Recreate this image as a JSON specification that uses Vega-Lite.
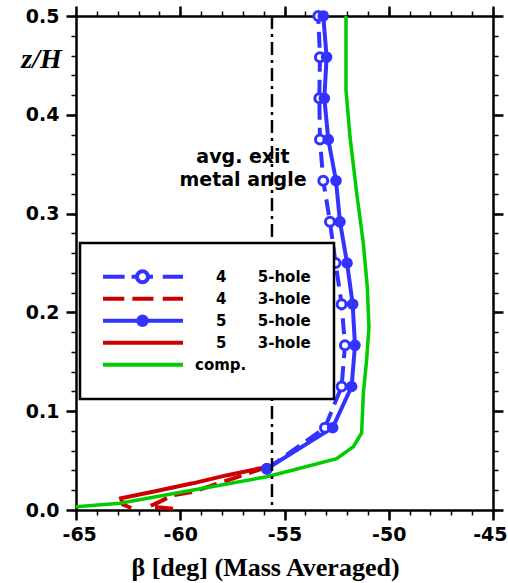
{
  "$schema": "https://vega.github.io/schema/vega-lite/v6.json",
  "width": 417,
  "height": 494,
  "autosize": "none",
  "padding": {"left": 76, "top": 16, "right": 15, "bottom": 73},
  "background": "white",
  "config": {
    "view": {"stroke": null},
    "axis": {
      "grid": false,
      "domainColor": "black",
      "domainWidth": 2.5,
      "tickColor": "black",
      "labelColor": "black",
      "labelFont": "DejaVu Sans",
      "labelFontWeight": "bold",
      "labelFontSize": 19,
      "labelFlush": false,
      "labelOverlap": false,
      "labelBound": false,
      "titleColor": "black"
    }
  },
  "datasets": {
    "curves": [
      {"series": "4 5-hole", "z": 0.5, "beta": -53.38},
      {"series": "4 5-hole", "z": 0.4583, "beta": -53.30},
      {"series": "4 5-hole", "z": 0.4167, "beta": -53.33},
      {"series": "4 5-hole", "z": 0.375, "beta": -53.30},
      {"series": "4 5-hole", "z": 0.3333, "beta": -53.14},
      {"series": "4 5-hole", "z": 0.2917, "beta": -52.82},
      {"series": "4 5-hole", "z": 0.25, "beta": -52.55},
      {"series": "4 5-hole", "z": 0.2083, "beta": -52.26},
      {"series": "4 5-hole", "z": 0.1667, "beta": -52.10},
      {"series": "4 5-hole", "z": 0.125, "beta": -52.26},
      {"series": "4 5-hole", "z": 0.0833, "beta": -53.06},
      {"series": "4 5-hole", "z": 0.0417, "beta": -55.84},
      {"series": "5 5-hole", "z": 0.5, "beta": -53.14},
      {"series": "5 5-hole", "z": 0.4583, "beta": -52.98},
      {"series": "5 5-hole", "z": 0.4167, "beta": -53.09},
      {"series": "5 5-hole", "z": 0.375, "beta": -52.90},
      {"series": "5 5-hole", "z": 0.3333, "beta": -52.53},
      {"series": "5 5-hole", "z": 0.2917, "beta": -52.34},
      {"series": "5 5-hole", "z": 0.25, "beta": -52.00},
      {"series": "5 5-hole", "z": 0.2083, "beta": -51.73},
      {"series": "5 5-hole", "z": 0.1667, "beta": -51.62},
      {"series": "5 5-hole", "z": 0.125, "beta": -51.78},
      {"series": "5 5-hole", "z": 0.0833, "beta": -52.69},
      {"series": "5 5-hole", "z": 0.0417, "beta": -55.85},
      {"series": "4 3-hole", "z": 0.0435, "beta": -55.85},
      {"series": "4 3-hole", "z": 0.033, "beta": -57.3},
      {"series": "4 3-hole", "z": 0.0182, "beta": -59.4},
      {"series": "4 3-hole", "z": 0.015, "beta": -60.35},
      {"series": "4 3-hole", "z": 0.008, "beta": -61.02},
      {"series": "4 3-hole", "z": 0.0035, "beta": -61.5},
      {"series": "4 3-hole", "z": 0.0012, "beta": -60.35},
      {"series": "5 3-hole", "z": 0.0435, "beta": -55.85},
      {"series": "5 3-hole", "z": 0.035, "beta": -57.8},
      {"series": "5 3-hole", "z": 0.027, "beta": -59.4},
      {"series": "5 3-hole", "z": 0.019, "beta": -61.2},
      {"series": "5 3-hole", "z": 0.0118, "beta": -62.84},
      {"series": "5 3-hole", "z": 0.0055, "beta": -62.75},
      {"series": "5 3-hole", "z": 0.002, "beta": -62.35},
      {"series": "comp.", "z": 0.5, "beta": -52.05},
      {"series": "comp.", "z": 0.425, "beta": -52.05},
      {"series": "comp.", "z": 0.378, "beta": -51.86},
      {"series": "comp.", "z": 0.321, "beta": -51.54},
      {"series": "comp.", "z": 0.27, "beta": -51.22},
      {"series": "comp.", "z": 0.226, "beta": -51.03},
      {"series": "comp.", "z": 0.1855, "beta": -50.95},
      {"series": "comp.", "z": 0.152, "beta": -51.06},
      {"series": "comp.", "z": 0.118, "beta": -51.22},
      {"series": "comp.", "z": 0.078, "beta": -51.30},
      {"series": "comp.", "z": 0.064, "beta": -51.70},
      {"series": "comp.", "z": 0.052, "beta": -52.50},
      {"series": "comp.", "z": 0.0405, "beta": -54.58},
      {"series": "comp.", "z": 0.0337, "beta": -55.85},
      {"series": "comp.", "z": 0.0202, "beta": -59.37},
      {"series": "comp.", "z": 0.0068, "beta": -62.89},
      {"series": "comp.", "z": 0.0033, "beta": -65.0}
    ]
  },
  "data": {"name": "curves"},
  "resolve": {"axis": {"x": "independent", "y": "independent"}},
  "layer": [
    {
      "transform": [{"filter": "datum.series === '4 3-hole'"}],
      "mark": {"type": "line", "color": "#cc0000", "strokeWidth": 4, "strokeDash": [18, 8]},
      "encoding": {
        "x": {"field": "beta", "type": "quantitative", "scale": {"domain": [-65, -45], "nice": false, "zero": false},
          "axis": {"orient": "bottom", "values": [-65,-64,-63,-62,-61,-60,-59,-58,-57,-56,-55,-54,-53,-52,-51,-50,-49,-48,-47,-46,-45], "tickSize": 5, "tickWidth": 1.5, "labels": false, "domain": false, "title": null}},
        "y": {"field": "z", "type": "quantitative", "scale": {"domain": [0, 0.5], "nice": false, "zero": false},
          "axis": {"orient": "left", "values": [0,0.02,0.04,0.06,0.08,0.1,0.12,0.14,0.16,0.18,0.2,0.22,0.24,0.26,0.28,0.3,0.32,0.34,0.36,0.38,0.4,0.42,0.44,0.46,0.48,0.5], "tickSize": 5, "tickWidth": 1.5, "labels": false, "domain": false, "title": null}},
        "order": {"field": "z", "type": "quantitative"}
      }
    },
    {
      "transform": [{"filter": "datum.series === '5 3-hole'"}],
      "mark": {"type": "line", "color": "#cc0000", "strokeWidth": 4},
      "encoding": {
        "x": {"field": "beta", "type": "quantitative", "scale": {"domain": [-65, -45], "nice": false, "zero": false},
          "axis": {"orient": "top", "values": [-65,-64,-63,-62,-61,-60,-59,-58,-57,-56,-55,-54,-53,-52,-51,-50,-49,-48,-47,-46,-45], "tickSize": 5, "tickWidth": 1.5, "labels": false, "domain": false, "title": null}},
        "y": {"field": "z", "type": "quantitative", "scale": {"domain": [0, 0.5], "nice": false, "zero": false},
          "axis": {"orient": "right", "values": [0,0.02,0.04,0.06,0.08,0.1,0.12,0.14,0.16,0.18,0.2,0.22,0.24,0.26,0.28,0.3,0.32,0.34,0.36,0.38,0.4,0.42,0.44,0.46,0.48,0.5], "tickSize": 5, "tickWidth": 1.5, "labels": false, "domain": false, "title": null}},
        "order": {"field": "z", "type": "quantitative"}
      }
    },
    {
      "transform": [{"filter": "datum.series === 'comp.'"}],
      "mark": {"type": "line", "color": "#00cc00", "strokeWidth": 3.5},
      "encoding": {
        "x": {"field": "beta", "type": "quantitative", "scale": {"domain": [-65, -45], "nice": false, "zero": false},
          "axis": {"orient": "top", "values": [-65, -60, -55, -50, -45], "tickSize": 10, "tickWidth": 2.5, "labels": false, "domain": true, "title": null}},
        "y": {"field": "z", "type": "quantitative", "scale": {"domain": [0, 0.5], "nice": false, "zero": false},
          "axis": {"orient": "right", "values": [0, 0.1, 0.2, 0.3, 0.4, 0.5], "tickSize": 10, "tickWidth": 2.5, "labels": false, "domain": true, "title": null}},
        "order": {"field": "z", "type": "quantitative"}
      }
    },
    {
      "transform": [{"filter": "datum.series === '4 5-hole'"}],
      "mark": {"type": "line", "strokeWidth": 4, "strokeDash": [16, 8]},
      "encoding": {
        "x": {"field": "beta", "type": "quantitative", "scale": {"domain": [-65, -45], "nice": false, "zero": false},
          "axis": {"orient": "bottom", "values": [-65, -60, -55, -50, -45], "tickSize": 10, "tickWidth": 2.5, "labelPadding": 5, "labelExpr": "'' + datum.value",
            "labelFlush": true, "labelFlushOffset": 14,
            "title": "β [deg] (Mass Averaged)", "titleFont": "Liberation Serif", "titleFontSize": 26, "titleFontWeight": "bold",
            "titleX": 189, "titleY": 65, "titleAlign": "center", "titleBaseline": "alphabetic"}},
        "y": {"field": "z", "type": "quantitative", "scale": {"domain": [0, 0.5], "nice": false, "zero": false},
          "axis": {"orient": "left", "values": [0, 0.1, 0.2, 0.3, 0.4, 0.5], "tickSize": 10, "tickWidth": 2.5, "labelPadding": 7, "labelExpr": "format(datum.value, '.1f')",
            "title": "z/H", "titleFont": "Liberation Serif", "titleFontSize": 28, "titleFontWeight": "bold", "titleFontStyle": "italic",
            "titleAngle": 0, "titleX": -35, "titleY": 43, "titleAlign": "center", "titleBaseline": "middle"}},
        "order": {"field": "z", "type": "quantitative"},
        "color": {
          "field": "series", "type": "nominal",
          "scale": {"domain": ["4 5-hole", "4 3-hole", "5 5-hole", "5 3-hole", "comp."], "range": ["#3333ff", "#cc0000", "#3333ff", "#cc0000", "#00cc00"]},
          "legend": {
            "orient": "none", "legendX": 4, "legendY": 227,
            "title": null,
            "fillColor": "white", "strokeColor": "black", "padding": 23,
            "symbolSize": 6561, "clipHeight": 21.5, "rowPadding": 0, "symbolOffset": -3,
            "symbolStrokeWidth": 4,
            "labelFont": "DejaVu Sans", "labelFontWeight": "bold", "labelFontSize": 15, "labelColor": "black", "labelOffset": 31,
            "labelExpr": "datum.label === 'comp.' ? 'comp.' : split(datum.label, ' ')[0] + '\u00a0\u00a0\u00a0\u00a0\u00a0\u00a0' + split(datum.label, ' ')[1] + '\u00a0'",
            "encode": {
              "legend": {"update": {"strokeWidth": {"value": 2.5}}},
              "labels": {"update": {"dx": {"signal": "datum.value === 'comp.' ? -21 : 0"}}},
              "symbols": {"update": {
                "shape": {"signal": "datum.value === '4 5-hole' ? 'M-1,0H-0.44M-0.27,0H-0.136A0.136,0.136,0,1,1,0.136,0A0.136,0.136,0,1,1,-0.136,0M0.136,0H0.26M0.5,0H1' : datum.value === '4 3-hole' ? 'M-1,0H-0.45M-0.25,0H0.27M0.5,0H1' : datum.value === '5 5-hole' ? 'M-1,0H-0.105A0.105,0.105,0,1,1,0.105,0A0.105,0.105,0,1,1,-0.105,0M0.105,0H1' : 'M-1,0H1'"},
                "fill": {"signal": "datum.value === '5 5-hole' ? '#3333ff' : datum.value === '4 5-hole' ? 'white' : 'transparent'"},
                "strokeWidth": {"value": 4},
                "opacity": {"value": 1}
              }}
            }
          }
        }
      }
    },
    {
      "transform": [{"filter": "datum.series === '5 5-hole'"}],
      "mark": {"type": "line", "color": "#3333ff", "strokeWidth": 4},
      "encoding": {
        "x": {"field": "beta", "type": "quantitative", "scale": {"domain": [-65, -45], "nice": false, "zero": false}, "axis": null},
        "y": {"field": "z", "type": "quantitative", "scale": {"domain": [0, 0.5], "nice": false, "zero": false}, "axis": null},
        "order": {"field": "z", "type": "quantitative"}
      }
    },
    {
      "transform": [{"filter": "datum.series === '4 5-hole'"}],
      "mark": {"type": "point", "shape": "circle", "filled": false, "fill": "white", "fillOpacity": 1, "stroke": "#3333ff", "strokeWidth": 3, "size": 80, "opacity": 1},
      "encoding": {
        "x": {"field": "beta", "type": "quantitative", "scale": {"domain": [-65, -45], "nice": false, "zero": false}, "axis": null},
        "y": {"field": "z", "type": "quantitative", "scale": {"domain": [0, 0.5], "nice": false, "zero": false}, "axis": null}
      }
    },
    {
      "transform": [{"filter": "datum.series === '5 5-hole'"}],
      "mark": {"type": "point", "shape": "circle", "filled": true, "color": "#3333ff", "size": 135, "opacity": 1},
      "encoding": {
        "x": {"field": "beta", "type": "quantitative", "scale": {"domain": [-65, -45], "nice": false, "zero": false}, "axis": null},
        "y": {"field": "z", "type": "quantitative", "scale": {"domain": [0, 0.5], "nice": false, "zero": false}, "axis": null}
      }
    },
    {
      "data": {"values": [{}]},
      "mark": {"type": "rule", "color": "black", "strokeWidth": 2.5, "strokeDash": [13, 5, 3, 5]},
      "encoding": {
        "x": {"datum": -55.6, "type": "quantitative", "scale": {"domain": [-65, -45], "nice": false, "zero": false}, "axis": null}
      }
    },
    {
      "data": {"values": [{}]},
      "mark": {"type": "text", "text": ["avg. exit", "metal angle"], "font": "DejaVu Sans", "fontWeight": "bold", "fontSize": 19, "lineHeight": 23, "align": "center", "baseline": "alphabetic", "color": "black"},
      "encoding": {
        "x": {"datum": -56.99, "type": "quantitative", "scale": {"domain": [-65, -45], "nice": false, "zero": false}, "axis": null},
        "y": {"datum": 0.3517, "type": "quantitative", "scale": {"domain": [0, 0.5], "nice": false, "zero": false}, "axis": null}
      }
    }
  ]
}
